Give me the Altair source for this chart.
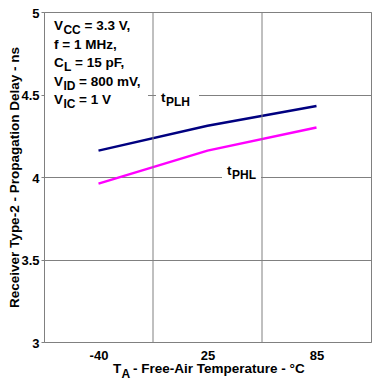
import json
import altair as alt
import pandas as pd

# ---- data ----
temps = ["-40", "25", "85"]
t_plh = [4.16, 4.31, 4.43]
t_phl = [3.96, 4.16, 4.30]
series_names = ["tPLH", "tPHL"]
series_colors = ["#000080", "#ff00ff"]
y_ticks = [3, 3.5, 4, 4.5, 5]
band_edges = [0.5, 1.5]   # boundaries between the three temperature columns

rows = []
for i, t in enumerate(temps):
    rows.append({"idx": i, "temp": t, "series": "tPLH", "delay": t_plh[i]})
    rows.append({"idx": i, "temp": t, "series": "tPHL", "delay": t_phl[i]})
df = pd.DataFrame(rows)

FONT = "Liberation Sans"
GRID = "#808080"
W, H = 327, 330

xscale = alt.Scale(domain=[-0.5, 2.5], nice=False, zero=False)
yscale = alt.Scale(domain=[3, 5], nice=False, zero=False)

x_axis = alt.Axis(
    values=[0, 1, 2],
    labelExpr=f"{json.dumps(temps)}[datum.value]",
    grid=False, ticks=False, tickSize=0, domain=False, title=None,
    labelFontSize=13, labelFontWeight="bold", labelPadding=7,
)
y_axis = alt.Axis(
    values=y_ticks, format="~g", grid=True, gridColor=GRID, gridOpacity=1,
    ticks=True, tickSize=3, tickColor=GRID, domain=False,
    title="Receiver Type-2 - Propagation Delay - ns",
    titleFontSize=13.5, titleFontWeight="bold",
    titleX=-26, titleBaseline="alphabetic",
    labelFontSize=13, labelFontWeight="bold", labelPadding=2, labelOffset=1,
)

lines = alt.Chart(df).mark_line(strokeWidth=2.5).encode(
    x=alt.X("idx:Q", scale=xscale, axis=x_axis),
    y=alt.Y("delay:Q", scale=yscale, axis=y_axis),
    color=alt.Color("series:N",
                    scale=alt.Scale(domain=series_names, range=series_colors),
                    legend=None),
    detail="series:N",
)

vgrid = alt.Chart(pd.DataFrame({"edge": band_edges})).mark_rule(
    color=GRID, strokeWidth=1
).encode(x=alt.X("edge:Q", scale=xscale, axis=x_axis))

one = alt.Data(values=[{"k": 1}])


def rect(x1, x2, y1, y2):
    return alt.Chart(one).mark_rect(color="white").encode(
        x=alt.value(x1), x2=alt.value(x2), y=alt.value(y1), y2=alt.value(y2))


def seg(text, x, y, size=13.5):
    return alt.Chart(one).mark_text(
        text=text, align="left", baseline="alphabetic", fontSize=size,
        fontWeight="bold", font=FONT, color="black"
    ).encode(x=alt.value(x), y=alt.value(y))


rects = [
    rect(1, 104, 1, 97),      # conditions box
    rect(112, 155, 73, 97),   # tPLH label background
    rect(178, 217, 151, 173), # tPHL label background
]

SUB = 12
texts = []
bx = 10
# line 1: V_CC = 3.3 V,
texts += [seg("V", bx, 18), seg("CC", bx + 9.4, 22, SUB), seg("= 3.3 V,", bx + 30.5, 18)]
# line 2
texts += [seg("f = 1 MHz,", bx, 36.5)]
# line 3: C_L = 15 pF,
texts += [seg("C", bx, 55), seg("L", bx + 10, 59, SUB), seg("= 15 pF,", bx + 21, 55)]
# line 4: V_ID = 800 mV,
texts += [seg("V", bx, 73.5), seg("ID", bx + 9.4, 77.5, SUB), seg("= 800 mV,", bx + 25, 73.5)]
# line 5: V_IC = 1 V
texts += [seg("V", bx, 92), seg("IC", bx + 9.4, 96, SUB), seg("= 1 V", bx + 25, 92)]

# series labels
texts += [seg("t", 117, 90), seg("PLH", 122, 94, SUB)]
texts += [seg("t", 183, 163), seg("PHL", 188, 167, SUB)]

# x-axis title: T_A - Free-Air Temperature - °C
texts += [seg("T", 69, 361), seg("A", 77.5, 365.5, SUB),
          seg("- Free-Air Temperature - °C", 89, 361)]

chart = alt.layer(lines, vgrid, *rects, *texts).properties(
    width=W, height=H, autosize="none",
    padding={"left": 36, "top": 4, "right": 1, "bottom": 40},
).configure_view(stroke=GRID, strokeWidth=1).configure_axis(
    labelFont=FONT, titleFont=FONT, labelColor="black", titleColor="black"
)

chart.save("out.html", embed_options={"renderer": "svg", "actions": False})
